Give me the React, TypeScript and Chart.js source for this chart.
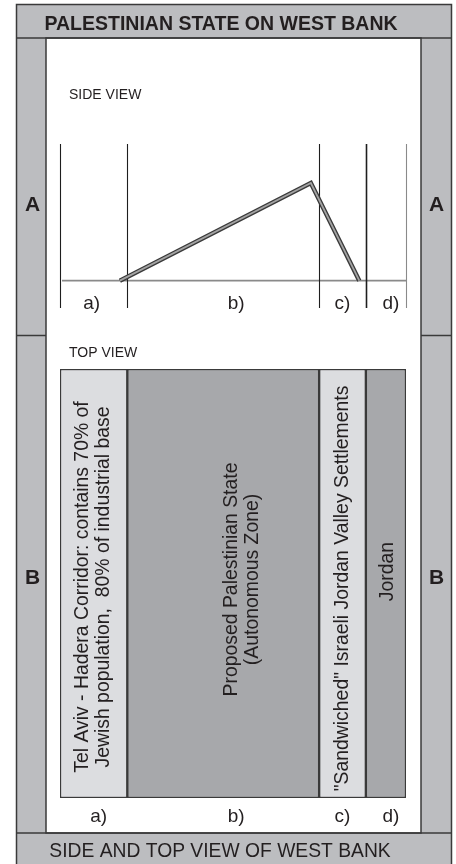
import React, { useEffect, useRef } from "react";
import { Chart, registerables } from "chart.js";

Chart.register(...registerables);

// ---------- data ----------
const ZONES = ["a)", "b)", "c)", "d)"];
// width of each strip, in % of the West Bank cross-section
const ZONE_WIDTHS = [19.45, 55.45, 13.5, 11.6];
const ZONE_TEXT = [
  ["Tel Aviv - Hadera Corridor: contains 70% of", "Jewish population,  80% of industrial base"],
  ["Proposed Palestinian State", "(Autonomous Zone)"],
  ['"Sandwiched" Israeli Jordan Valley Settlements'],
  ["Jordan"],
];
// side-view elevation profile (x in %, elevation in arbitrary units)
const PROFILE_X = [17.3, 72.5, 86.5];
const PROFILE_ELEV = [0, 1000, 0];

const TITLE = "PALESTINIAN STATE ON WEST BANK";
const FOOTER = "SIDE AND TOP VIEW OF WEST BANK";
const SIDE_LABEL = "SIDE VIEW";
const TOP_LABEL = "TOP VIEW";
const ROW_LABELS = ["A", "B"];

// ---------- style ----------
const W = 456;
const H = 864;
const FRAME_GRAY = "#bcbdc0";
const LIGHT = "#dcdde0";
const DARK = "#a7a8ab";
const ZONE_FILLS = [LIGHT, DARK, LIGHT, DARK];
const LINE = "#3a3a3a";
const INK = "#231f20";
const FONT = "'Liberation Sans', Arial, Helvetica, sans-serif";

const BOUNDS = ZONE_WIDTHS.reduce<number[]>((acc, w) => {
  acc.push(acc[acc.length - 1] + w);
  return acc;
}, [0]);
const MIDS = ZONE_WIDTHS.map((w, i) => BOUNDS[i] + w / 2);

function hline(ctx: CanvasRenderingContext2D, x1: number, y: number, x2: number) {
  ctx.beginPath();
  ctx.moveTo(x1, y);
  ctx.lineTo(x2, y);
  ctx.stroke();
}

const framePlugin = {
  id: "frame",
  beforeDraw(chart: any) {
    const ctx: CanvasRenderingContext2D = chart.ctx;
    ctx.save();
    ctx.fillStyle = FRAME_GRAY;
    ctx.fillRect(16, 4, 436, 870);
    ctx.fillStyle = "#ffffff";
    ctx.fillRect(46, 38, 375, 795);
    ctx.strokeStyle = LINE;
    ctx.lineWidth = 1.5;
    ctx.strokeRect(16.5, 4.5, 435, 890);
    ctx.strokeRect(46, 38, 375, 795);
    hline(ctx, 16, 38, 452);
    hline(ctx, 16, 833, 452);
    hline(ctx, 16, 335.5, 46);
    hline(ctx, 421, 335.5, 452);

    ctx.fillStyle = INK;
    ctx.textBaseline = "middle";
    ctx.textAlign = "center";
    ctx.font = `bold 19.5px ${FONT}`;
    ctx.fillText(TITLE, 221, 25);
    ctx.font = `19.3px ${FONT}`;
    ctx.fillText(FOOTER, 220, 852);
    ctx.font = `bold 21px ${FONT}`;
    ctx.fillText(ROW_LABELS[0], 32.5, 205);
    ctx.fillText(ROW_LABELS[0], 436.5, 205);
    ctx.fillText(ROW_LABELS[1], 32.5, 578);
    ctx.fillText(ROW_LABELS[1], 436.5, 578);
    ctx.textAlign = "left";
    ctx.font = `14px ${FONT}`;
    ctx.fillText(SIDE_LABEL, 69, 95.5);
    ctx.fillText(TOP_LABEL, 69, 353.5);
    ctx.restore();
  },
  beforeDatasetsDraw(chart: any) {
    const ctx: CanvasRenderingContext2D = chart.ctx;
    const { top, bottom, left, right } = chart.chartArea;
    const xs = chart.scales.x;
    const ys = chart.scales.y;
    ctx.save();
    // sea-level baseline
    ctx.strokeStyle = "#8a8a8a";
    ctx.lineWidth = 1.6;
    hline(ctx, left + 2, ys.getPixelForValue(0), right);
    // zone boundaries
    BOUNDS.forEach((b, i) => {
      const x = Math.round(xs.getPixelForValue(b)) + 0.5;
      ctx.strokeStyle = i === BOUNDS.length - 1 ? "#8a8a8a" : "#1e1e1e";
      ctx.lineWidth = i === 3 ? 1.6 : 1.1;
      ctx.beginPath();
      ctx.moveTo(x, top);
      ctx.lineTo(x, bottom);
      ctx.stroke();
    });
    // zone labels
    const offs = [-2, 13, 0, 5];
    ctx.fillStyle = INK;
    ctx.font = `19px ${FONT}`;
    ctx.textAlign = "center";
    ctx.textBaseline = "middle";
    ZONES.forEach((z, i) => {
      ctx.fillText(z, xs.getPixelForValue(MIDS[i]) + offs[i], 304);
    });
    ctx.restore();
  },
};

const barTextPlugin = {
  id: "barText",
  afterDatasetsDraw(chart: any) {
    const ctx: CanvasRenderingContext2D = chart.ctx;
    const xs = chart.scales.x;
    const { top, bottom } = chart.chartArea;
    const cy = (top + bottom) / 2;
    const dx = [0, 19, 0, 2];
    const dy = [3.5, -4, 5, -12];
    const lh = 21;
    ctx.save();
    ctx.fillStyle = INK;
    ctx.font = `19.4px ${FONT}`;
    ctx.textAlign = "center";
    ctx.textBaseline = "middle";
    ZONE_TEXT.forEach((lines, i) => {
      const cx = xs.getPixelForValue(MIDS[i]) + dx[i];
      lines.forEach((t, j) => {
        const off = (j - (lines.length - 1) / 2) * lh;
        ctx.save();
        ctx.translate(cx + off, cy + dy[i]);
        ctx.rotate(-Math.PI / 2);
        ctx.fillText(t, 0, 0);
        ctx.restore();
      });
    });
    // zone labels under strip
    const offs = [5, 13, 0, 5];
    ctx.font = `19px ${FONT}`;
    ZONES.forEach((z, i) => {
      ctx.fillText(z, xs.getPixelForValue(MIDS[i]) + offs[i], 817);
    });
    ctx.restore();
  },
};

export default function App() {
  const sideRef = useRef<HTMLCanvasElement>(null);
  const topRef = useRef<HTMLCanvasElement>(null);

  useEffect(() => {
    const profile = PROFILE_X.map((x, i) => ({ x, y: PROFILE_ELEV[i] }));
    const side = new Chart(sideRef.current as HTMLCanvasElement, {
      type: "line",
      data: {
        datasets: [
          {
            // inner light core of the ridge line (drawn on top)
            data: profile,
            borderColor: "#a3a3a3",
            borderWidth: 1.8,
            pointRadius: 0,
            borderJoinStyle: "miter",
            borderCapStyle: "butt",
            tension: 0,
          },
          {
            // dark outline of the ridge line
            data: profile,
            borderColor: LINE,
            borderWidth: 4.5,
            pointRadius: 0,
            borderJoinStyle: "miter",
            borderCapStyle: "butt",
            tension: 0,
          },
        ],
      },
      options: {
        responsive: false,
        animation: false,
        layout: { padding: { left: 60, right: W - 406, top: 144, bottom: H - 308 } },
        scales: {
          x: { type: "linear", min: 0, max: 100, display: false },
          y: { type: "linear", min: -280, max: 1400, display: false },
        },
        plugins: { legend: { display: false }, tooltip: { enabled: false } },
      },
      plugins: [framePlugin],
    });

    const top = new Chart(topRef.current as HTMLCanvasElement, {
      type: "bar",
      data: {
        labels: ["West Bank"],
        datasets: ZONE_WIDTHS.map((w, i) => ({
          label: ZONES[i],
          data: [w],
          backgroundColor: ZONE_FILLS[i],
          borderColor: LINE,
          borderWidth: 1.5,
          borderSkipped: false,
          barPercentage: 1,
          categoryPercentage: 1,
        })),
      },
      options: {
        indexAxis: "y",
        responsive: false,
        animation: false,
        layout: { padding: { left: 60, right: W - 406, top: 369, bottom: H - 798 } },
        scales: {
          x: { type: "linear", min: 0, max: 100, stacked: true, display: false },
          y: { stacked: true, display: false },
        },
        plugins: { legend: { display: false }, tooltip: { enabled: false } },
      },
      plugins: [barTextPlugin],
    });

    return () => {
      side.destroy();
      top.destroy();
    };
  }, []);

  const cstyle: React.CSSProperties = { position: "absolute", left: 0, top: 0, width: W, height: H };
  return (
    <div style={{ position: "absolute", left: 0, top: 0, width: W, height: H, overflow: "hidden" }}>
      <canvas ref={sideRef} width={W} height={H} style={cstyle} />
      <canvas ref={topRef} width={W} height={H} style={cstyle} />
    </div>
  );
}
